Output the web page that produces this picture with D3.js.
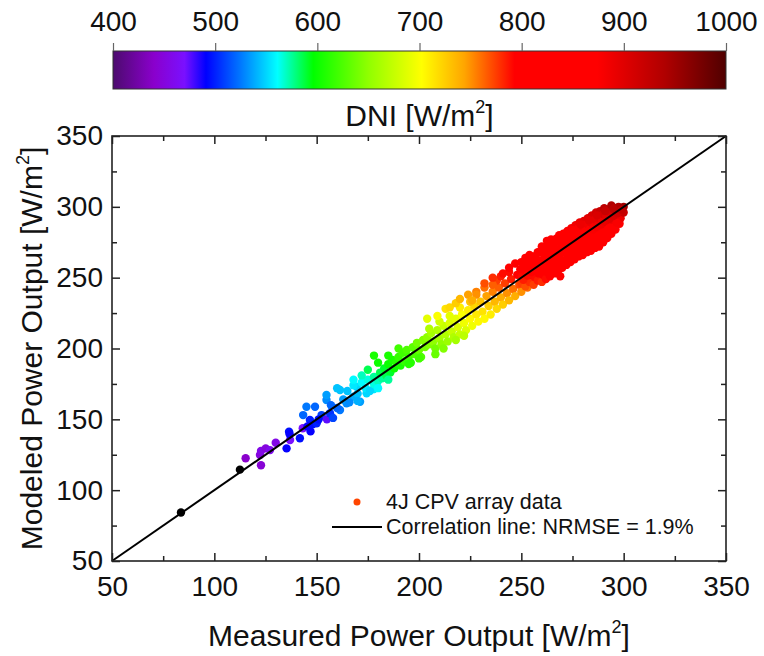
<!DOCTYPE html>
<html>
<head>
<meta charset="utf-8">
<script src="https://cdn.jsdelivr.net/npm/d3@7"></script>
<style>
  html, body { margin: 0; padding: 0; background: #fff; }
  svg { display: block; font-family: "Liberation Sans", Arial, sans-serif; }
</style>
</head>
<body>
<div id="chart"></div>
<script>
// [measured, modeled, DNI]
const lowPoints = [
  [83.7, 84.2, 380], [112.5, 114.5, 385],
  [115.3, 122.5, 440], [122.3, 124.8, 450], [122.8, 117.6, 445], [122.8, 127.6, 455],
  [125.1, 129.5, 450], [127.2, 128.3, 460], [130, 133.5, 455], [135.3, 129.5, 490],
  [137, 135.4, 470], [136.5, 141.3, 495], [136.8, 139.5, 490], [141.8, 136.6, 495],
  [143.2, 143.7, 470], [143.4, 153, 520], [145, 158.9, 525], [146.7, 149.5, 500],
  [145.5, 145, 490], [147, 141.5, 490], [148, 146.5, 495], [150, 147.2, 500],
  [149.2, 158.9, 520], [152.4, 153, 510], [151, 150, 495], [155, 150, 475],
  [156.5, 154.3, 505], [154.8, 163.6, 530], [158, 151, 510], [161.4, 156.6, 525],
  [164.6, 161.3, 530], [167.9, 166, 540], [171.2, 162.4, 535], [174.4, 168.4, 550],
  [177.7, 171.3, 555], [179.3, 174, 560], [161.4, 170.7, 545], [160, 172, 545],
  [169.6, 172.9, 550], [154.8, 167.2, 535], [157, 160, 520], [160, 158, 520],
  [163, 164, 535], [166, 162, 530]
];

const midPoints = [
  [165, 170, 545], [168, 174, 555], [170, 168, 545], [172, 176, 560], [174, 172, 555],
  [175, 178, 565], [176, 170, 550], [178, 180, 575], [178, 175, 565], [180, 177, 570],
  [181, 183, 585], [182, 179, 575], [183, 186, 590], [184, 181, 585], [185, 189, 600],
  [186, 183, 590], [178, 195, 605], [180, 190, 600], [187, 192, 605], [188, 186, 600],
  [189, 190, 610], [190, 194, 615], [191, 188, 605], [192, 197, 620], [193, 191, 615],
  [194, 199, 625], [195, 194, 620], [196, 190, 610], [197, 201, 630], [198, 196, 625],
  [199, 204, 640], [200, 199, 635], [201, 194, 625], [202, 206, 645], [203, 201, 640],
  [190, 200, 620], [185, 195, 605], [172, 181, 570], [168, 178, 560], [175, 185, 585],
  [170, 163, 540], [180, 172, 560], [185, 178, 575], [195, 189, 610], [200, 193, 620]
];

const yellowPoints = [
  [204, 208, 650], [205, 203, 645], [206, 211, 660], [207, 205, 650], [208, 200, 640],
  [209, 213, 665], [210, 207, 660], [211, 203, 650], [212, 216, 675], [213, 210, 665],
  [214, 205, 655], [215, 218, 685], [216, 212, 675], [217, 208, 665], [218, 221, 690],
  [219, 215, 685], [220, 210, 675], [221, 224, 700], [222, 218, 695], [223, 213, 685],
  [224, 227, 710], [225, 221, 705], [226, 216, 695], [227, 230, 720], [228, 224, 712],
  [229, 219, 705], [205, 214, 665], [210, 219, 680], [215, 223, 690], [220, 229, 710],
  [225, 233, 730], [208, 196, 635], [212, 200, 645], [218, 206, 660], [222, 209, 670],
  [204, 221, 690], [209, 223, 700], [213, 228, 715], [215, 229, 720], [218, 232, 725],
  [220, 235, 735], [224, 238, 745], [228, 240, 755]
];

const orangePoints = [
  [230, 233, 730], [231, 226, 715], [232, 221, 705], [233, 237, 745], [234, 230, 725],
  [235, 224, 710], [236, 240, 755], [237, 233, 735], [238, 228, 720], [239, 243, 765],
  [240, 236, 740], [241, 231, 725], [242, 246, 775], [243, 239, 750], [244, 234, 735],
  [245, 249, 785], [246, 242, 760], [247, 237, 740], [248, 252, 795], [249, 245, 770],
  [250, 240, 750], [251, 255, 800], [252, 248, 780], [253, 243, 760], [254, 258, 810],
  [255, 251, 790], [256, 246, 770], [228, 238, 750], [232, 243, 760], [238, 248, 775],
  [244, 254, 790], [226, 234, 740], [236, 245, 765], [240, 251, 785], [232, 246, 770],
  [236, 250, 780], [241, 253, 790], [244, 257, 800], [247, 260, 810]
];

const redPoints = [
  [250, 246, 775], [250.5, 251, 790], [249.5, 256, 800], [250, 261, 815],
  [252, 244, 770], [252.5, 249, 785], [252, 254.5, 800], [251.5, 259, 810], [252, 264, 820],
  [254, 247, 780], [254.5, 252, 795], [254, 257, 805], [253.5, 262, 815], [254, 266, 825],
  [256, 245, 775], [256.5, 250.5, 790], [256, 255, 805], [255.5, 260, 815], [256, 265, 825],
  [258, 248, 785], [258.5, 253, 800], [258, 258.5, 810], [257.5, 263, 820], [258, 268, 830],
  [260, 247, 780], [260.5, 252, 800], [260, 257, 810], [259.5, 262, 820], [260, 267.5, 830], [260, 272, 840],
  [262, 249, 790], [262.5, 254, 800], [262, 259, 815], [261.5, 264.5, 825], [262, 270, 835], [262.5, 276, 850],
  [264, 251, 795], [264.5, 256, 805], [264, 261.5, 815], [263.5, 266, 825], [264, 272, 840], [264.5, 277, 855],
  [266, 253, 800], [266.5, 258, 810], [266, 263, 820], [265.5, 268.5, 830], [266, 274, 845],
  [268, 255, 805], [268.5, 260, 815], [268, 265, 825], [267.5, 270, 835], [268, 276, 850], [268.5, 280, 865],
  [269, 251, 800],
  [270, 257, 810], [270.5, 262, 820], [270, 267.5, 830], [269.5, 272, 840], [270, 277, 855], [270.5, 281, 870],
  [272, 259, 815], [272.5, 264, 825], [272, 269, 835], [271.5, 274.5, 845], [272, 279, 860], [272.5, 283, 875],
  [274, 261, 815], [274.5, 266, 825], [274, 271, 840], [273.5, 276, 850], [274, 281.5, 865], [274.5, 285, 880],
  [276, 263, 820], [276.5, 268, 830], [276, 273, 845], [275.5, 278.5, 855], [276, 283, 870], [276.5, 287, 885],
  [278, 265, 820], [278.5, 270, 835], [278, 275, 845], [277.5, 280, 860], [278, 285, 875], [278.5, 289, 890],
  [280, 266, 825], [280.5, 271, 835], [280, 276.5, 850], [279.5, 281, 865], [280, 286, 880], [280.5, 290, 895],
  [282, 268, 825], [282.5, 273, 840], [282, 278, 855], [281.5, 283.5, 870], [282, 288, 885], [282.5, 292, 900],
  [284, 269, 830], [284.5, 274, 845], [284, 279.5, 860], [283.5, 284, 875], [284, 289, 890], [284.5, 294, 905],
  [286, 271, 835], [286.5, 276, 850], [286, 281, 865], [285.5, 286.5, 880], [286, 291, 895], [286.5, 296, 910],
  [288, 272, 840], [288.5, 277, 855], [288, 282.5, 870], [287.5, 287, 885], [288, 292, 900], [288.5, 297, 920],
  [290, 275, 845], [290.5, 280, 860], [290, 285, 875], [289.5, 290.5, 890], [290, 295, 910], [290.5, 299, 930],
  [292, 278, 850], [292.5, 283, 865], [292, 288.5, 880], [291.5, 293, 900], [292, 298, 925],
  [294, 281, 855], [294.5, 286, 870], [294, 291, 890], [293.5, 296, 910], [294, 301, 940],
  [296, 284, 860], [296.5, 289, 880], [296, 294, 900], [295.5, 299, 930],
  [298, 288, 870], [298.5, 292, 890], [298, 297, 915], [297.5, 300, 940],
  [300, 296, 920], [300, 300, 950]
];

// in-between points of the dense red cloud
const redFill = [
  [251, 248.5, 785], [253, 251.5, 790], [255, 254, 800], [257, 257, 805], [259, 259.5, 810],
  [261, 262, 820], [263, 264, 822], [265, 266.5, 828], [267, 268, 832], [269, 270.5, 836],
  [271, 272, 842], [273, 274, 848], [275, 276, 852], [277, 277.5, 858], [279, 279, 862],
  [281, 281, 866], [283, 282.5, 872], [285, 284, 878], [287, 285.5, 882], [289, 287.5, 888],
  [291, 289.5, 894], [293, 291.5, 898], [295, 293.5, 904], [297, 295.5, 910], [299, 298, 925],
  [261, 255.5, 808], [265, 259, 815], [269, 263, 822], [273, 266.5, 828], [277, 270.5, 836],
  [281, 274.5, 845], [285, 277.5, 852], [289, 281, 862], [293, 285, 870], [297, 288.5, 878],
  [263, 273, 845], [267, 277.5, 858], [271, 280.5, 866], [275, 283.5, 875], [279, 287.5, 888],
  [283, 290.5, 895], [287, 294, 905], [291, 297, 920], [295, 298.5, 932]
];

const points = [...lowPoints, ...midPoints, ...yellowPoints, ...orangePoints, ...redPoints, ...redFill];

// colour map of the DNI colour bar
const dniStops = [400, 440, 470, 491, 525, 561, 596, 650, 702, 744, 793, 874, 940, 1000];
const dniColors = ['#4c0b6e', '#8a00cc', '#7a10ff', '#0000ff', '#0078ff', '#00ffff', '#00ff00',
  '#90ff00', '#ffff00', '#ffa500', '#ff0000', '#ff0000', '#b00000', '#500000'];
const dniTicks = [400, 500, 600, 700, 800, 900, 1000];

const axisMajor = [50, 100, 150, 200, 250, 300, 350];
const axisMinor = [75, 125, 175, 225, 275, 325];
const fitLine = [[50, 50], [350, 350]];

const width = 764;
const height = 656;
const plot = { left: 112, right: 726, top: 136, bottom: 561 };
const bar = { left: 113, right: 726, top: 51, bottom: 89 };
const FONT_TICK = 28;
const FONT_TITLE = 30;
const INK = '#111';

const svg = d3.select('#chart').append('svg')
  .attr('width', width).attr('height', height)
  .attr('viewBox', `0 0 ${width} ${height}`);

const x = d3.scaleLinear().domain([50, 350]).range([plot.left, plot.right]);
const y = d3.scaleLinear().domain([50, 350]).range([plot.bottom, plot.top]);
const cb = d3.scaleLinear().domain([400, 1000]).range([bar.left, bar.right]);
const dniColor = d3.scaleLinear().domain(dniStops).range(dniColors).interpolate(d3.interpolateRgb).clamp(true);
const colorOf = (v) => (v < 400 ? '#000' : dniColor(v));

// ---- colour bar
const grad = svg.append('defs').append('linearGradient')
  .attr('id', 'dni-grad').attr('x1', 0).attr('x2', 1).attr('y1', 0).attr('y2', 0);
dniStops.forEach((v, i) => {
  grad.append('stop').attr('offset', (v - 400) / 600).attr('stop-color', dniColors[i]);
});
svg.append('rect')
  .attr('x', bar.left).attr('y', bar.top)
  .attr('width', bar.right - bar.left).attr('height', bar.bottom - bar.top)
  .attr('fill', 'url(#dni-grad)')
  .attr('stroke', '#333').attr('stroke-width', 1);

const cbAxis = svg.append('g')
  .attr('transform', `translate(0,${bar.top})`)
  .call(d3.axisTop(cb).tickValues(dniTicks).tickSize(8).tickPadding(12).tickFormat(d3.format('d')));
cbAxis.select('.domain').remove();
cbAxis.selectAll('line').attr('stroke', '#666').attr('stroke-width', 1.2);
cbAxis.selectAll('text').attr('font-size', FONT_TICK).attr('fill', INK)
  .attr('font-family', '"Liberation Sans", Arial, sans-serif');

function unitLabel(sel, prefix) {
  sel.append('tspan').text(prefix + ' [W/m');
  sel.append('tspan').attr('font-size', '0.6em').attr('dy', '-0.75em').text('2');
  sel.append('tspan').attr('dy', '0.45em').text(']');
}

svg.append('text')
  .attr('x', (bar.left + bar.right) / 2).attr('y', 126)
  .attr('text-anchor', 'middle').attr('font-size', FONT_TITLE).attr('fill', INK)
  .call(unitLabel, 'DNI');

// ---- scatter
const marks = svg.append('g');
marks.selectAll('circle').data(points).join('circle')
  .attr('cx', (d) => x(d[0]))
  .attr('cy', (d) => y(d[1]))
  .attr('r', 4.2)
  .attr('fill', (d) => colorOf(d[2]));

svg.append('line')
  .attr('x1', x(fitLine[0][0])).attr('y1', y(fitLine[0][1]))
  .attr('x2', x(fitLine[1][0])).attr('y2', y(fitLine[1][1]))
  .attr('stroke', '#000').attr('stroke-width', 2);

// ---- axes (ticks inward on all four sides)
function styleAxis(g) {
  g.select('.domain').remove();
  g.selectAll('line').attr('stroke', '#222').attr('stroke-width', 1.5);
  g.selectAll('text').attr('font-size', FONT_TICK).attr('fill', INK)
    .attr('font-family', '"Liberation Sans", Arial, sans-serif');
}

svg.append('g').attr('transform', `translate(0,${plot.bottom})`)
  .call(d3.axisBottom(x).tickValues(axisMajor).tickSize(-8).tickPadding(15).tickFormat(d3.format('d')))
  .call(styleAxis);
svg.append('g').attr('transform', `translate(0,${plot.bottom})`)
  .call(d3.axisBottom(x).tickValues(axisMinor).tickSize(-5).tickFormat(''))
  .call(styleAxis);
svg.append('g').attr('transform', `translate(${plot.left},0)`)
  .call(d3.axisLeft(y).tickValues(axisMajor).tickSize(-8).tickPadding(9).tickFormat(d3.format('d')))
  .call(styleAxis);
svg.append('g').attr('transform', `translate(${plot.left},0)`)
  .call(d3.axisLeft(y).tickValues(axisMinor).tickSize(-5).tickFormat(''))
  .call(styleAxis);
svg.append('g').attr('transform', `translate(0,${plot.top})`)
  .call(d3.axisTop(x).tickValues(axisMajor).tickSize(-8).tickFormat(''))
  .call(styleAxis);
svg.append('g').attr('transform', `translate(0,${plot.top})`)
  .call(d3.axisTop(x).tickValues(axisMinor).tickSize(-5).tickFormat(''))
  .call(styleAxis);
svg.append('g').attr('transform', `translate(${plot.right},0)`)
  .call(d3.axisRight(y).tickValues(axisMajor).tickSize(-8).tickFormat(''))
  .call(styleAxis);
svg.append('g').attr('transform', `translate(${plot.right},0)`)
  .call(d3.axisRight(y).tickValues(axisMinor).tickSize(-5).tickFormat(''))
  .call(styleAxis);

svg.append('rect')
  .attr('x', plot.left).attr('y', plot.top)
  .attr('width', plot.right - plot.left).attr('height', plot.bottom - plot.top)
  .attr('fill', 'none').attr('stroke', '#222').attr('stroke-width', 1.6);

// ---- axis titles
svg.append('text')
  .attr('x', (plot.left + plot.right) / 2).attr('y', 646)
  .attr('text-anchor', 'middle').attr('font-size', FONT_TITLE).attr('fill', INK)
  .call(unitLabel, 'Measured Power Output');

svg.append('text')
  .attr('transform', `translate(42,${(plot.top + plot.bottom) / 2}) rotate(-90)`)
  .attr('text-anchor', 'middle').attr('font-size', FONT_TITLE).attr('fill', INK)
  .call(unitLabel, 'Modeled Power Output');

// ---- legend
const legend = svg.append('g').attr('font-size', 21.5).attr('fill', INK);
legend.append('circle').attr('cx', 357).attr('cy', 502).attr('r', 3.5).attr('fill', '#ff4500');
legend.append('text').attr('x', 386).attr('y', 509).text('4J CPV array data');
legend.append('line').attr('x1', 332).attr('x2', 382).attr('y1', 527).attr('y2', 527)
  .attr('stroke', '#000').attr('stroke-width', 2);
legend.append('text').attr('x', 386).attr('y', 534).text('Correlation line: NRMSE = 1.9%');
</script>
</body>
</html>
